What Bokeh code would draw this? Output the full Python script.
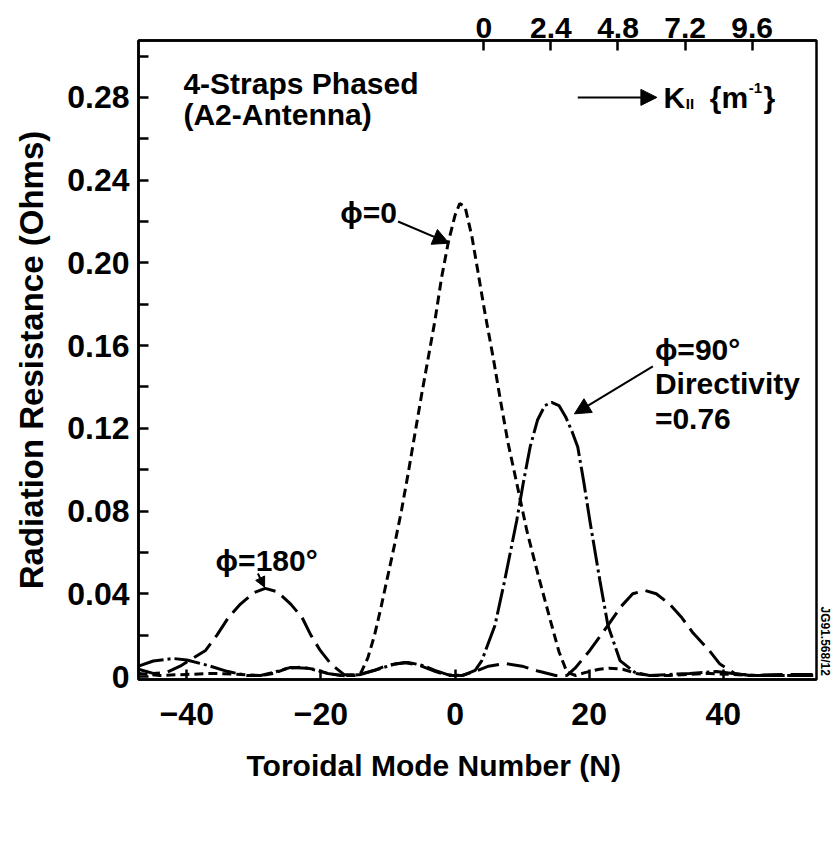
from bokeh.plotting import figure
from bokeh.models import Range1d, LinearAxis, FixedTicker, Label, Arrow, NormalHead, Title
from bokeh.embed import file_html
from bokeh.resources import INLINE

# ---- data ----
n_phi0 = [-47.2, -44, -40, -36, -32, -29, -27, -25, -23, -21, -19, -17, -15, -14, -13, -12, -11, -10, -9, -8, -7, -6, -5, -4, -3, -2, -1, 0, 0.7, 1.5, 2.5, 3.4, 4.5, 5.7, 6.8, 7.9, 9.3, 10.7, 12.4, 14.1, 15.5, 16.7, 18, 19.5, 21.5, 23, 25, 27, 29, 32, 35, 38, 41, 44, 48, 53.9]
r_phi0 = [0.0015, 0.0005, 0.001, 0.0015, 0.001, 0.0005, 0.0015, 0.004, 0.0045, 0.0035, 0.0015, 0.0005, 0.0005, 0.002, 0.009, 0.02, 0.034, 0.049, 0.064, 0.08, 0.098, 0.117, 0.136, 0.154, 0.172, 0.193, 0.21, 0.223, 0.2287, 0.227, 0.213, 0.196, 0.175, 0.154, 0.133, 0.113, 0.092, 0.0706, 0.049, 0.0285, 0.012, 0.002, 0.0005, 0.002, 0.0035, 0.004, 0.0035, 0.0015, 0.0005, 0.0005, 0.001, 0.0015, 0.001, 0.0005, 0.0005, 0.0005]

n_phi90 = [-47.2, -45, -42, -40, -37, -34, -31, -29, -27, -24.5, -22, -19, -16.5, -14, -11, -9, -7, -5, -3, -1, 1.2, 3, 4.0, 5.95, 7.4, 9.2, 10.2, 11.2, 12.3, 13.4, 14.4, 15.5, 16.5, 17.5, 18.3, 19.2, 20.1, 21.6, 22.8, 24.6, 26.8, 29, 32, 35, 39, 42, 45, 50, 53.9]
r_phi90 = [0.005, 0.0075, 0.0087, 0.008, 0.0055, 0.0025, 0.0005, 0.0005, 0.002, 0.0044, 0.004, 0.0015, 0.0003, 0.001, 0.004, 0.006, 0.0068, 0.0055, 0.003, 0.0008, 0.0005, 0.003, 0.0077, 0.0247, 0.0464, 0.0754, 0.094, 0.111, 0.124, 0.131, 0.1325, 0.131, 0.1255, 0.118, 0.111, 0.094, 0.0754, 0.0464, 0.0247, 0.0077, 0.002, 0.0005, 0.001, 0.0015, 0.0024, 0.0012, 0.0005, 0.0005, 0.0005]

n_phi180 = [-47.2, -45, -43, -41, -39, -37.2, -35.5, -33.8, -32, -30, -28.3, -26.5, -24.5, -22.8, -21.5, -20.1, -18.5, -16.5, -14.5, -12, -10, -7.5, -5, -3, -1, 1, 3, 5, 7.5, 10, 12.5, 15, 16.7, 17.9, 20.1, 22.8, 24.8, 26.5, 28.3, 30, 32, 33.8, 35.5, 37.9, 39.5, 41.7, 44, 47, 50, 53.9]
r_phi180 = [0.0035, 0.0015, 0.002, 0.005, 0.009, 0.0126, 0.02, 0.0285, 0.035, 0.0405, 0.0426, 0.041, 0.035, 0.0285, 0.02, 0.0126, 0.006, 0.0008, 0.0008, 0.003, 0.0055, 0.0068, 0.005, 0.0025, 0.0005, 0.0005, 0.0025, 0.005, 0.0063, 0.005, 0.0025, 0.0005, 0.0005, 0.004, 0.0126, 0.0247, 0.034, 0.04, 0.0416, 0.04, 0.035, 0.0285, 0.021, 0.0126, 0.006, 0.0015, 0.0005, 0.0008, 0.001, 0.001]

y_ticks = [0, 0.04, 0.08, 0.12, 0.16, 0.20, 0.24, 0.28]
y_tick_labels = ["0", "0.04", "0.08", "0.12", "0.16", "0.20", "0.24", "0.28"]
y_minor = [0.02, 0.06, 0.10, 0.14, 0.18, 0.22, 0.26, 0.30]
x_ticks = [-40, -20, 0, 20, 40]
k_ticks = [0, 2.4, 4.8, 7.2, 9.6]
k_tick_labels = ["0", "2.4", "4.8", "7.2", "9.6"]
k_per_n = 0.24        # K|| step per toroidal mode number on the top scale
n_at_k0 = 4.3         # mode number under K|| = 0 on the top scale

N_MIN, N_MAX = -47.2, 53.9
FONT = "Liberation Sans"

p = figure(width=832, height=835, x_range=Range1d(N_MIN, N_MAX), y_range=Range1d(-0.00145, 0.3075),
           output_backend="svg", toolbar_location=None,
           min_border_left=138, min_border_right=15, min_border_top=40, min_border_bottom=156,
           x_axis_location=None, y_axis_location=None)
p.grid.visible = False
p.outline_line_color = "black"
p.outline_line_width = 2.5
p.background_fill_color = "white"
p.border_fill_color = "white"

def style_axis(ax, size="32px"):
    ax.axis_line_width = 2.5
    ax.major_tick_line_width = 2.5
    ax.minor_tick_line_width = 2.5
    ax.major_tick_in = 10
    ax.major_tick_out = 0
    ax.minor_tick_in = 10
    ax.minor_tick_out = 0
    ax.major_label_text_font = FONT
    ax.major_label_text_font_style = "bold"
    ax.major_label_text_font_size = size
    ax.major_label_text_color = "black"
    ax.axis_label_text_font = FONT
    ax.axis_label_text_font_style = "bold"
    ax.axis_label_text_font_size = "33px"
    ax.axis_label_text_color = "black"

yax = LinearAxis(ticker=FixedTicker(ticks=y_ticks, minor_ticks=y_minor),
                 axis_label="Radiation Resistance (Ohms)")
style_axis(yax)
yax.major_label_overrides = {t: l for t, l in zip(y_ticks, y_tick_labels)}
yax.major_label_standoff = 9
yax.axis_label_standoff = 14
p.add_layout(yax, "left")

xax = LinearAxis(ticker=FixedTicker(ticks=x_ticks, minor_ticks=[]))
style_axis(xax)
xax.major_label_standoff = 23
p.add_layout(xax, "below")

p.extra_x_ranges = {"k": Range1d((N_MIN - n_at_k0) * k_per_n, (N_MAX - n_at_k0) * k_per_n)}
kax = LinearAxis(x_range_name="k", ticker=FixedTicker(ticks=k_ticks, minor_ticks=[]))
style_axis(kax, size="30px")
kax.major_label_overrides = {t: l for t, l in zip(k_ticks, k_tick_labels)}
kax.major_label_standoff = 3
p.add_layout(kax, "above")

# x-axis title: placed as a title below the axis (it sits left of the frame centre in the original)
xtitle = Title(text="Toroidal Mode Number (N)", align="left", offset=108, standoff=39,
               text_font=FONT, text_font_size="30px", text_font_style="bold", text_color="black")
p.add_layout(xtitle, "below")

# figure reference tag on the right margin, reading top to bottom
tag = Title(text="JG91.568/12", align="left", offset=566, standoff=0, vertical_align="middle",
            text_font=FONT, text_font_size="12px", text_font_style="bold", text_color="black")
p.add_layout(tag, "right")

# ---- curves ----
p.line(n_phi0, r_phi0, line_color="black", line_width=3, line_dash="9 5")
p.line(n_phi90, r_phi90, line_color="black", line_width=3, line_dash="26 4 3 4")
p.line(n_phi180, r_phi180, line_color="black", line_width=3, line_dash="22 8")

# ---- annotations ----
def lab(x, y, text, size="30px", style="bold", align="left", baseline="middle", angle=0):
    l = Label(x=x, y=y, text=text, text_font=FONT, text_font_size=size, text_font_style=style,
              text_align=align, text_baseline=baseline, text_color="black", angle=angle)
    p.add_layout(l)

def head(size=16):
    return NormalHead(size=size, fill_color="black", line_color="black")

lab(-40.5, 0.2868, "4-Straps Phased")
lab(-40.5, 0.2718, "(A2-Antenna)")

p.add_layout(Arrow(end=head(), x_start=18.3, y_start=0.280, x_end=30.1, y_end=0.280,
                   line_width=2, line_color="black"))
lab(31.1, 0.280, "K")
lab(34.4, 0.2771, "II", size="15px")
lab(38.0, 0.280, "{m")
lab(43.8, 0.2843, "-1", size="15px")
lab(46.0, 0.280, "}")

lab(-17.1, 0.2244, "ϕ=0")
p.add_layout(Arrow(end=head(), x_start=-8.5, y_start=0.220, x_end=-0.9, y_end=0.2095,
                   line_width=2, line_color="black"))

lab(29.8, 0.1581, "ϕ=90°")
lab(29.8, 0.1417, "Directivity")
lab(29.8, 0.1248, "=0.76")
p.add_layout(Arrow(end=head(), x_start=29.5, y_start=0.1499, x_end=17.8, y_end=0.127,
                   line_width=2, line_color="black"))

lab(-35.7, 0.0561, "ϕ=180°")
p.add_layout(Arrow(end=head(10), x_start=-29.4, y_start=0.0498, x_end=-28.4, y_end=0.0432,
                   line_width=2, line_color="black"))

open("out.html", "w").write(file_html(p, INLINE))
